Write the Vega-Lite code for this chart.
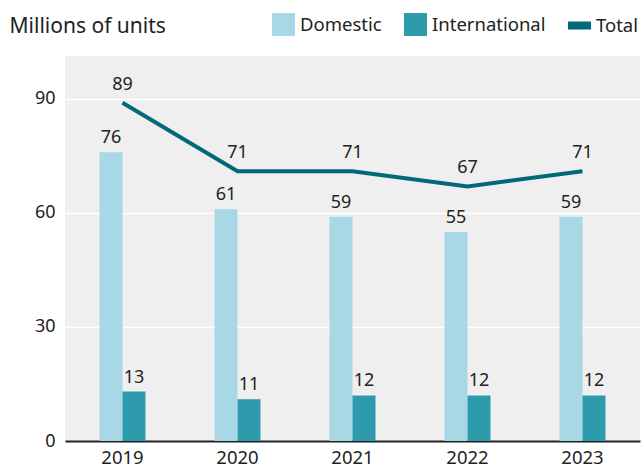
{
  "$schema": "https://vega.github.io/schema/vega-lite/v6.json",
  "width": 575,
  "height": 385,
  "autosize": {"type": "none"},
  "padding": {"left": 65, "top": 56, "right": 3, "bottom": 27},
  "background": "#ffffff",
  "config": {
    "font": "Noto Sans",
    "view": {"fill": "#efefef", "stroke": null},
    "axis": {"labelColor": "#222222", "titleColor": "#222222"},
    "legend": {"labelColor": "#222222"}
  },
  "data": {
    "values": [
      {"year": "2019", "series": "Domestic", "value": 76},
      {"year": "2019", "series": "International", "value": 13},
      {"year": "2019", "series": "Total", "value": 89},
      {"year": "2020", "series": "Domestic", "value": 61},
      {"year": "2020", "series": "International", "value": 11},
      {"year": "2020", "series": "Total", "value": 71},
      {"year": "2021", "series": "Domestic", "value": 59},
      {"year": "2021", "series": "International", "value": 12},
      {"year": "2021", "series": "Total", "value": 71},
      {"year": "2022", "series": "Domestic", "value": 55},
      {"year": "2022", "series": "International", "value": 12},
      {"year": "2022", "series": "Total", "value": 67},
      {"year": "2023", "series": "Domestic", "value": 59},
      {"year": "2023", "series": "International", "value": 12},
      {"year": "2023", "series": "Total", "value": 71}
    ]
  },
  "encoding": {
    "x": {
      "field": "year",
      "type": "nominal",
      "scale": {"paddingInner": 0.6, "paddingOuter": 0.3},
      "axis": {
        "title": null,
        "labelAngle": 0,
        "labelFontSize": 18.5,
        "labelPadding": 7,
        "ticks": false,
        "domainColor": "#222222",
        "domainWidth": 2
      }
    },
    "y": {
      "field": "value",
      "type": "quantitative",
      "scale": {"domain": [0, 101.3], "nice": false},
      "axis": {
        "title": "Millions of units",
        "titleAngle": 0,
        "titleX": -56,
        "titleY": -24,
        "titleAlign": "left",
        "titleBaseline": "alphabetic",
        "titleFontSize": 21,
        "titleFontWeight": "normal",
        "values": [0, 30, 60, 90],
        "labelFontSize": 18,
        "labelPadding": 10,
        "ticks": false,
        "domain": false,
        "gridColor": "#ffffff",
        "gridWidth": 1.5,
        "gridOpacity": 1
      }
    },
    "color": {
      "field": "series",
      "type": "nominal",
      "scale": {
        "domain": ["Domestic", "International", "Total"],
        "range": ["#a8d8e6", "#2e9bad", "#006a7a"]
      },
      "legend": {
        "title": null,
        "orient": "none",
        "direction": "horizontal",
        "legendX": 207,
        "legendY": -43,
        "symbolType": "square",
        "symbolSize": 529,
        "symbolStrokeWidth": 0,
        "symbolOpacity": 1,
        "labelFontSize": 18.5,
        "labelOffset": 5,
        "columnPadding": 22,
        "encode": {
          "symbols": {
            "update": {
              "shape": {"signal": "datum.label === 'Total' ? 'M-1,-0.35H1V0.35H-1Z' : 'square'"}
            }
          }
        }
      }
    }
  },
  "layer": [
    {
      "transform": [{"filter": "datum.series !== 'Total'"}],
      "mark": {"type": "bar"},
      "encoding": {
        "xOffset": {"field": "series", "type": "nominal", "scale": {"domain": ["Domestic", "International"]}}
      }
    },
    {
      "transform": [{"filter": "datum.series !== 'Total'"}],
      "mark": {"type": "text", "baseline": "bottom", "dy": -5, "fontSize": 18},
      "encoding": {
        "xOffset": {"field": "series", "type": "nominal", "scale": {"domain": ["Domestic", "International"]}},
        "text": {"field": "value", "type": "quantitative"},
        "color": {"value": "#222222"}
      }
    },
    {
      "transform": [{"filter": "datum.series === 'Total'"}],
      "mark": {"type": "line", "strokeWidth": 4},
      "encoding": {}
    },
    {
      "transform": [{"filter": "datum.series === 'Total'"}],
      "mark": {"type": "text", "baseline": "bottom", "dy": -9, "fontSize": 18},
      "encoding": {
        "text": {"field": "value", "type": "quantitative"},
        "color": {"value": "#222222"}
      }
    }
  ]
}
